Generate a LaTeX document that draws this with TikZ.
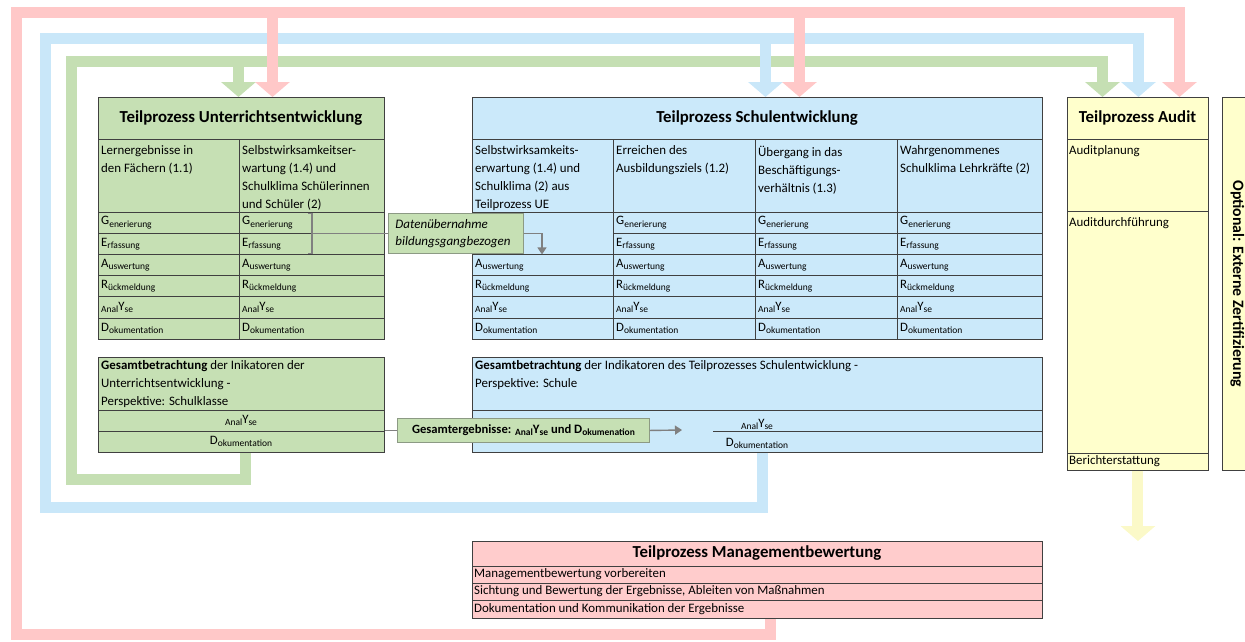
\documentclass[tikz,border=0pt]{standalone}
\usepackage{fontspec}
\setmainfont{Carlito}
\usetikzlibrary{arrows.meta}

\definecolor{uegreen}{HTML}{C6E0B4}
\definecolor{seblue}{HTML}{CBE9FA}
\definecolor{audyellow}{HTML}{FFFFCC}
\definecolor{mgpink}{HTML}{FFCCCC}
\definecolor{pinkflow}{HTML}{FFC8C8}
\definecolor{blueflow}{HTML}{C9E7F9}
\definecolor{greenflow}{HTML}{C5DFB3}
\definecolor{yellowflow}{HTML}{FBF9C8}
\definecolor{tblgray}{HTML}{404040}
\definecolor{notegray}{HTML}{8C9A84}
\definecolor{conngray}{HTML}{808080}

% small lowered part of the step labels
\newcommand{\lo}[1]{\raisebox{-0.35ex}{\fontsize{9.5}{9.5}\selectfont #1}}
\newcommand{\gsub}[2]{{\fontsize{12.8}{12.8}\selectfont #1}\lo{#2}}
\newcommand{\analyse}{\lo{Anal}{\fontsize{12.8}{12.8}\selectfont Y}\lo{se}}
\newcommand{\steplbl}[1]{\ifcase#1 \gsub{G}{enerierung}\or\gsub{E}{rfassung}\or\gsub{A}{uswertung}\or\gsub{R}{ückmeldung}\or\analyse\or\gsub{D}{okumentation}\fi}

\tikzset{
  tbl/.style={draw=tblgray, line width=0.9pt, anchor=north west, inner sep=0pt},
  tline/.style={draw=tblgray, line width=0.9pt},
  ttl/.style={font=\fontsize{16.8}{20}\selectfont\bfseries, inner sep=0pt},
  cell/.style={anchor=north west, inner sep=0pt, align=left},
  steptxt/.style={anchor=west, inner sep=0pt},
  note/.style={fill=uegreen, draw=notegray, line width=0.9pt, anchor=north west},
  conn/.style={draw=conngray, line width=1.4pt},
  flowline/.style={line width=11pt},
  bigtip/.style={-{Triangle[width=34pt,length=15pt]}},
  smalltip/.style={-{Triangle[width=9pt,length=7pt]}}
}

\begin{document}
\begin{tikzpicture}[x=1pt, y=-1pt, font=\fontsize{12.9}{18}\selectfont]
    \useasboundingbox (0,0) rectangle (1245,641);

    % boxes
    \node[tbl, fill=uegreen, minimum width=286pt, minimum height=242.2pt] (ue) at (98,97) {};
    \node[tbl, fill=seblue, minimum width=570pt, minimum height=242.2pt] (se) at (472,97) {};
    \node[tbl, fill=uegreen, minimum width=286pt, minimum height=95pt] (uel) at (98,357) {};
    \node[tbl, fill=seblue, minimum width=570pt, minimum height=95pt] (sel) at (472,357) {};
    \node[tbl, fill=audyellow, minimum width=141pt, minimum height=373pt] (au) at (1067,97) {};
    \node[tbl, fill=audyellow, minimum width=30pt, minimum height=373pt] (opt) at (1222,97) {};
    \node[tbl, fill=mgpink, minimum width=570pt, minimum height=77pt] (mg) at (472,541) {};

    % table rules
    \foreach \y in {139,212,254.4,275.6,296.8,318}
        {\draw[tline] (98,\y) -- (384,\y) (472,\y) -- (1042,\y);}
    \draw[tline] (98,233.2) -- (384,233.2) (613,233.2) -- (1042,233.2);
    \foreach \x in {239,613,755,897}
        {\draw[tline] (\x,139) -- (\x,339.2);}
    \draw[tline] (98,410) -- (384,410) (98,431) -- (384,431);
    \draw[tline] (472,410) -- (1042,410) (713,431) -- (1042,431);
    \draw[tline] (1067,139) -- (1208,139) (1067,211) -- (1208,211) (1067,453) -- (1208,453);
    \foreach \y in {566,583,600}
        {\draw[tline] (472,\y) -- (1042,\y);}

    % titles
    \node[ttl] (ue-t) at (241,118) {Teilprozess Unterrichtsentwicklung};
    \node[ttl] (se-t) at (757,118) {Teilprozess Schulentwicklung};
    \node[ttl] (au-t) at (1137.5,118) {Teilprozess Audit};
    \node[ttl] (mg-t) at (757,553.5) {Teilprozess Managementbewertung};
    \node[rotate=-90, inner sep=0pt, font=\fontsize{15.8}{17}\selectfont\bfseries] (opt-t) at (opt.center) {Optional: Externe Zertifizierung};

    % indicator heads
    \node[cell] (ue-ha) at (101,145.5) {Lernergebnisse in\\den Fächern (1.1)};
    \node[cell] (ue-hb) at (242,145.5) {Selbstwirksamkeitser-\\wartung (1.4) und\\Schulklima Schülerinnen\\und Schüler (2)};
    \node[cell] (se-ha) at (475,145.5) {Selbstwirksamkeits-\\erwartung (1.4) und\\Schulklima (2) aus\\Teilprozess UE};
    \node[cell] (se-hb) at (616,145.5) {Erreichen des\\Ausbildungsziels (1.2)};
    \node[cell] (se-hc) at (758,145.5) {Übergang in das\\Beschäftigungs-\\verhältnis (1.3)};
    \node[cell] (se-hd) at (900,145.5) {Wahrgenommenes\\Schulklima Lehrkräfte (2)};

    % step rows
    \foreach \c/\n in {101/a,242/b}
        \foreach \k in {0,...,5}
            {\node[steptxt] (ue-\n\k) at (\c,{222.6+21.2*\k}) {\steplbl{\k}};}
    \foreach \k in {2,...,5}
        {\node[steptxt] (se-a\k) at (475,{222.6+21.2*\k}) {\steplbl{\k}};}
    \foreach \c/\n in {616/b,758/c,900/d}
        \foreach \k in {0,...,5}
            {\node[steptxt] (se-\n\k) at (\c,{222.6+21.2*\k}) {\steplbl{\k}};}

    % overall views
    \node[cell] (uel-t) at (101,360) {\textbf{Gesamtbetrachtung} der Inikatoren der\\Unterrichtsentwicklung -\\Perspektive: Schulklasse};
    \node[inner sep=0pt] (uel-a) at (241,420.5) {\analyse};
    \node[inner sep=0pt] (uel-d) at (241,441.5) {\gsub{D}{okumentation}};
    \node[cell] (sel-t) at (475,360) {\textbf{Gesamtbetrachtung} der Indikatoren des Teilprozesses Schulentwicklung -\\Perspektive: Schule};
    \node[inner sep=0pt] (sel-a) at (757,424) {\analyse};
    \node[inner sep=0pt] (sel-d) at (757,443) {\gsub{D}{okumentation}};

    % audit and management rows
    \node[cell] (au-a) at (1069,145) {Auditplanung};
    \node[cell] (au-b) at (1069,217) {Auditdurchführung};
    \node[steptxt] (au-c) at (1069,461.5) {Berichterstattung};
    \node[steptxt] (mg-a) at (474,574.5) {Managementbewertung vorbereiten};
    \node[steptxt] (mg-b) at (474,591.5) {Sichtung und Bewertung der Ergebnisse, Ableiten von Maßnahmen};
    \node[steptxt] (mg-c) at (474,609) {Dokumentation und Kommunikation der Ergebnisse};

    % notes
    \node[note, minimum width=135pt, minimum height=40pt, text width=121pt, inner xsep=7pt, align=left,
          font=\fontsize{13}{16.5}\selectfont\itshape] (dat) at (388,213) {Datenübernahme\\bildungsgangbezogen};
    \node[note, minimum width=252pt, minimum height=24pt, font=\fontsize{12.6}{14}\selectfont\bfseries] (ges) at (397,418)
        {Gesamtergebnisse: \analyse{} und \gsub{D}{okumenation}};

    % gray connectors
    \coordinate (brk) at (312,233.2);
    \coordinate (seA) at (542,254.4);
    \coordinate (seR) at (682,430);
    \draw[conn] (308,213.5) -- (312,213.5) -- (312,253.5) -- (308,253.5);
    \draw[conn] (brk) -- (brk -| dat.west);
    \draw[conn, smalltip] (dat.east) -| (seA);
    \draw[conn] (ges.west -| uel.east) -- (ges.west);
    \draw[conn, smalltip] (ges.east) -- (seR);

    % flow arrows
    \coordinate (gtop) at (71,61);
    \coordinate (btop) at (45,38);
    \coordinate (ptop) at (16,12);
    \path ([xshift=-3pt]ue.north) coordinate (ueG) ([xshift=31pt]ue.north) coordinate (ueP)
          ([xshift=8pt]se.north) coordinate (seB) ([xshift=42pt]se.north) coordinate (seP)
          ([xshift=-35.5pt]au.north) coordinate (auG) ([xshift=0.5pt]au.north) coordinate (auB)
          ([xshift=41.5pt]au.north) coordinate (auP);
    \draw[flowline, draw=greenflow, bigtip] ([xshift=4pt]uel.south) -- ++(0,27) -| (gtop) -| (auG);
    \draw[flowline, draw=greenflow, bigtip] (ueG |- gtop) -- (ueG);
    \draw[flowline, draw=blueflow, bigtip] ([xshift=5pt]sel.south) -- ++(0,55) -| (btop) -| (auB);
    \draw[flowline, draw=blueflow, bigtip] (seB |- btop) -- (seB);
    \draw[flowline, draw=pinkflow, bigtip] ([xshift=13pt]mg.south) -- ++(0,16) -| (ptop) -| (auP);
    \draw[flowline, draw=pinkflow, bigtip] (ueP |- ptop) -- (ueP);
    \draw[flowline, draw=pinkflow, bigtip] (seP |- ptop) -- (seP);
    \draw[flowline, draw=yellowflow, bigtip] (au.south) -- (au.south |- mg.north);
\end{tikzpicture}
\end{document}
